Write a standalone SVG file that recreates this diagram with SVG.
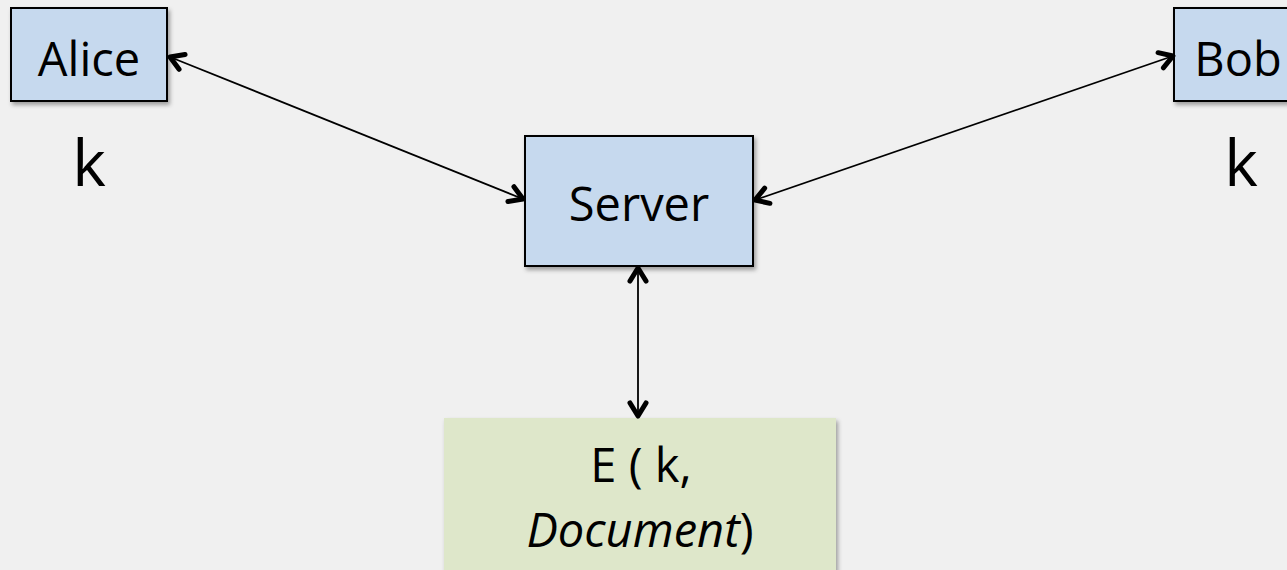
<svg xmlns="http://www.w3.org/2000/svg" width="1287" height="570" viewBox="0 0 1287 570">
<style>
.blue{fill:#c6d9ee;stroke:#000;stroke-width:2px}
.green{fill:#dee7ca}
.t{font-family:"Open Sans","Noto Sans",sans-serif;font-size:47px;fill:#000;text-anchor:middle}
.k{font-family:"Open Sans","Noto Sans",sans-serif;font-size:64px;fill:#000;text-anchor:middle}
.c{fill:none;stroke:#000;stroke-width:1.8px}
.ah{fill:none;stroke:#000;stroke-width:5px;stroke-linecap:round;stroke-linejoin:round}
</style>
<defs>
<filter id="sh" x="-10%" y="-10%" width="130%" height="140%">
<feDropShadow dx="2" dy="3" stdDeviation="2" flood-color="#000" flood-opacity="0.35"/>
</filter>
</defs>
<rect width="1287" height="570" fill="#f0f0f0"/>
<g id="alice">
<rect class="blue" x="11" y="8" width="156" height="93" filter="url(#sh)"/>
<text class="t" x="89" y="76" font-size="46">Alice</text>
</g>
<g id="bob">
<rect class="blue" x="1174" y="8" width="130" height="93" filter="url(#sh)"/>
<text class="t" x="1238" y="76">Bob</text>
</g>
<g id="k-alice"><text class="k" x="89" y="186">k</text></g>
<g id="k-bob"><text class="k" x="1241" y="186">k</text></g>
<g id="server">
<rect class="blue" x="525" y="136" width="228" height="130" filter="url(#sh)"/>
<text class="t" x="639" y="221">Server</text>
</g>
<g id="doc">
<rect class="green" x="444" y="418" width="392" height="160" filter="url(#sh)"/>
<text class="t" x="641" y="482" font-size="48">E ( k,</text>
<text class="t" x="640" y="547" font-size="50"><tspan font-style="italic">Document</tspan>)</text>
</g>
<g id="connectors">
<line class="c" x1="170" y1="57" x2="523" y2="199"/>
<path class="ah" d="M 507.95 201.57 L 523 199 L 513.93 186.73"/>
<path class="ah" d="M 179.07 69.27 L 170 57 L 185.05 54.43"/>
<line class="c" x1="755" y1="200" x2="1173" y2="56"/>
<path class="ah" d="M 1163.32 67.79 L 1173 56 L 1158.10 52.67"/>
<path class="ah" d="M 769.90 203.33 L 755 200 L 764.68 188.21"/>
<line class="c" x1="638" y1="268" x2="638" y2="416"/>
<path class="ah" d="M 630 281 L 638 268 L 646 281"/>
<path class="ah" d="M 630 403 L 638 416 L 646 403"/>
</g>
</svg>
